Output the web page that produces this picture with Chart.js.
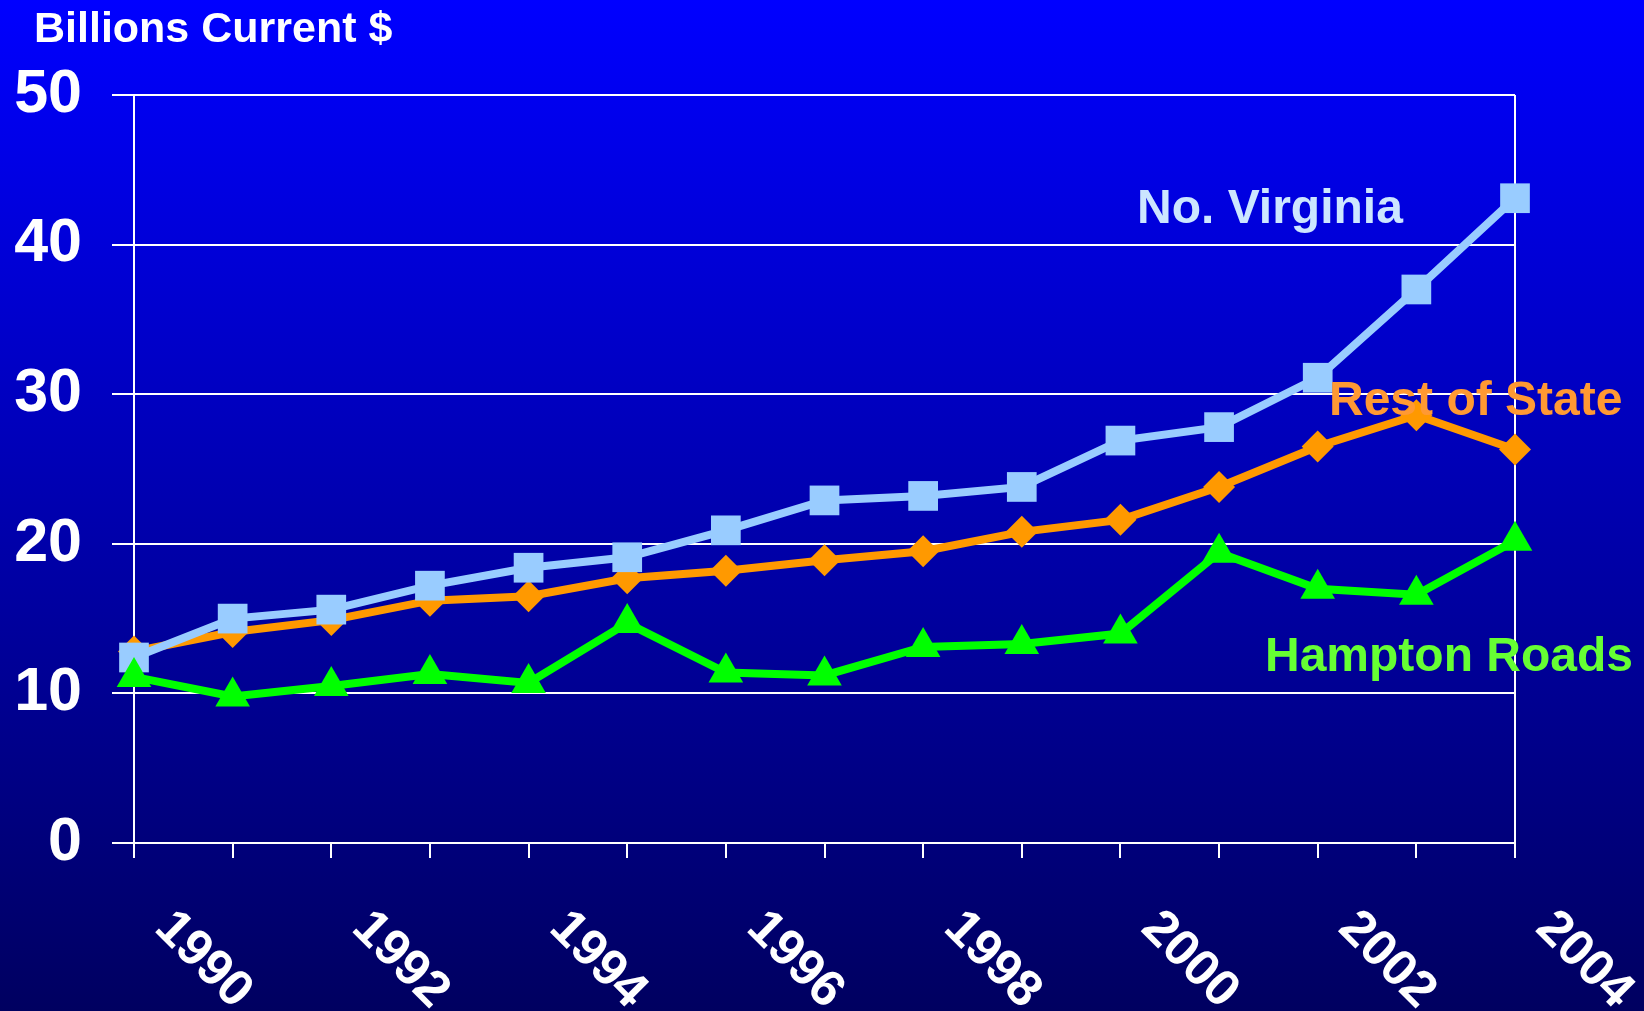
<!DOCTYPE html>
<html>
<head>
<meta charset="utf-8">
<script src="https://cdn.jsdelivr.net/npm/chart.js@4.4.1/dist/chart.umd.min.js"></script>
<style>
  html, body { margin: 0; padding: 0; }
  body {
    width: 1644px; height: 1011px; overflow: hidden;
    background: linear-gradient(to bottom, #0000ff 0%, #000060 100%);
  }
  canvas { display: block; }
</style>
</head>
<body>
<canvas id="chart" width="1644" height="1011"></canvas>
<script>
const years = ['1990','1991','1992','1993','1994','1995','1996','1997',
               '1998','1999','2000','2001','2002','2003','2004'];
const shownYears = ['1990','1992','1994','1996','1998','2000','2002','2004'];
const noVirginia   = [12.4, 15.0, 15.6, 17.2, 18.4, 19.1, 20.9, 22.9, 23.2, 23.8, 26.9, 27.8, 31.1, 37.0, 43.1];
const restOfState  = [12.8, 14.1, 14.9, 16.2, 16.5, 17.7, 18.2, 18.9, 19.5, 20.8, 21.6, 23.8, 26.5, 28.6, 26.3];
const hamptonRoads = [11.1, 9.8, 10.5, 11.3, 10.7, 14.7, 11.4, 11.2, 13.1, 13.3, 14.0, 19.4, 17.0, 16.6, 20.2];
const yMin = 0, yMax = 50, yStep = 10;

const FONT = '"Liberation Sans", Arial, sans-serif';

// text drawn on top of the plot like on the slide
const slideText = {
  id: 'slideText',
  afterDraw(chart) {
    const ctx = chart.ctx;
    const xs = chart.scales.x;
    ctx.save();
    ctx.textAlign = 'left';
    ctx.textBaseline = 'middle';

    ctx.fillStyle = '#ffffff';
    ctx.font = 'bold 43px ' + FONT;
    ctx.fillText('Billions Current $', 34, 30);

    // slanted year labels
    ctx.font = 'bold 51px ' + FONT;
    for (var i = 0; i < years.length; i++) {
      if (shownYears.indexOf(years[i]) < 0) continue;
      const px = xs.getPixelForValue(i);
      ctx.save();
      ctx.translate(px + 29, 920);
      ctx.rotate(Math.PI / 4);
      ctx.fillText(years[i], 0, 0);
      ctx.restore();
    }

    // series names
    ctx.font = 'bold 48px ' + FONT;
    ctx.fillStyle = '#cce6ff';
    ctx.fillText('No. Virginia', 1137, 210);
    ctx.fillStyle = '#ff9933';
    ctx.fillText('Rest of State', 1329, 402);
    ctx.fillStyle = '#66ff33';
    ctx.fillText('Hampton Roads', 1265, 658);
    ctx.restore();
  }
};

const ctx = document.getElementById('chart').getContext('2d');
const chart = new Chart(ctx, {
  type: 'line',
  data: {
    labels: years,
    datasets: [
      {
        label: 'No. Virginia',
        data: noVirginia,
        borderColor: '#99ccff',
        backgroundColor: '#99ccff',
        borderWidth: 8,
        pointStyle: 'rect',
        pointRadius: 21,
        pointBorderWidth: 0,
        order: 2,
        clip: false
      },
      {
        label: 'Rest of State',
        data: restOfState,
        borderColor: '#ff9900',
        backgroundColor: '#ff9900',
        borderWidth: 8,
        pointStyle: 'rectRot',
        pointRadius: 16,
        pointBorderWidth: 0,
        order: 3,
        clip: false
      },
      {
        label: 'Hampton Roads',
        data: hamptonRoads,
        borderColor: '#00ff00',
        backgroundColor: '#00ff00',
        borderWidth: 8,
        pointStyle: 'triangle',
        pointRadius: 20,
        pointBorderWidth: 0,
        order: 1,
        clip: false
      }
    ]
  },
  options: {
    responsive: false,
    animation: false,
    layout: { padding: { top: 95, right: 129, bottom: 0, left: 0 } },
    plugins: {
      legend: { display: false },
      tooltip: { enabled: false }
    },
    elements: { line: { tension: 0 } },
    scales: {
      x: {
        type: 'category',
        offset: false,
        grid: {
          offset: false,
          color: (c) => c.index === years.length - 1 ? '#ffffff' : 'rgba(0,0,0,0)',
          lineWidth: 2,
          tickColor: '#ffffff',
          tickLength: 15,
          tickWidth: 2
        },
        border: { color: '#ffffff', width: 2 },
        ticks: { display: false },
        afterFit: (s) => { s.height = 168; }
      },
      y: {
        min: yMin,
        max: yMax,
        ticks: {
          stepSize: yStep,
          color: '#ffffff',
          font: { family: FONT, size: 61, weight: 'bold' },
          padding: 30
        },
        grid: {
          color: '#ffffff',
          lineWidth: 2,
          tickColor: '#ffffff',
          tickLength: 22
        },
        border: { color: '#ffffff', width: 2 },
        afterFit: (s) => { s.width = 134; }
      }
    }
  },
  plugins: [slideText]
});
</script>
</body>
</html>
